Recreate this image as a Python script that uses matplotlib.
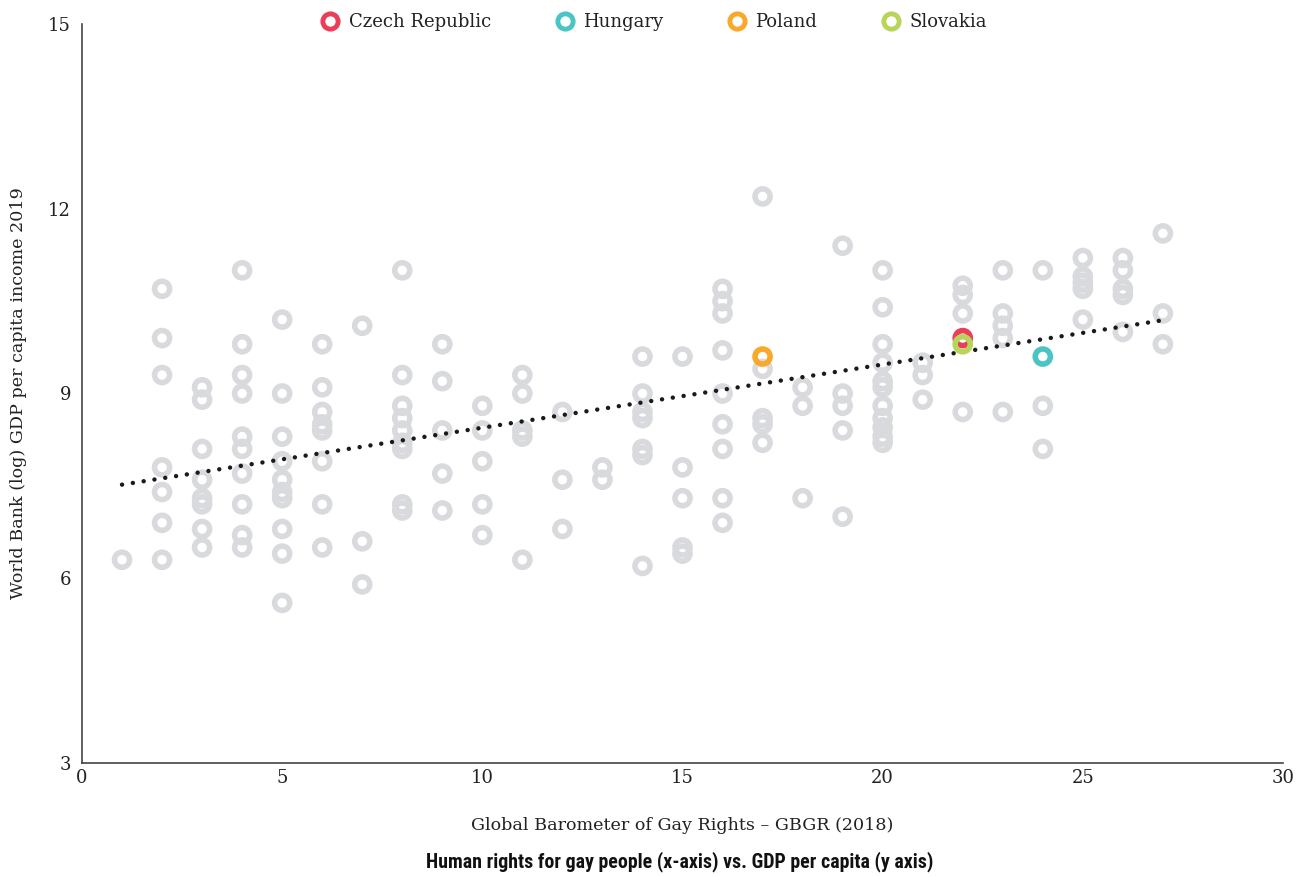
import matplotlib
matplotlib.use("Agg")
import matplotlib.pyplot as plt
from matplotlib.lines import Line2D

# ---- data (GBGR score, log GDP per capita) ----
gbgr = [
    1,
    2, 2, 2, 2, 2, 2, 2,
    3, 3, 3, 3, 3, 3, 3, 3,
    4, 4, 4, 4, 4, 4, 4, 4, 4, 4,
    5, 5, 5, 5, 5, 5, 5, 5, 5, 5,
    6, 6, 6, 6, 6, 6, 6, 6,
    7, 7, 7,
    8, 8, 8, 8, 8, 8, 8, 8, 8,
    9, 9, 9, 9, 9,
    10, 10, 10, 10, 10,
    11, 11, 11, 11, 11,
    12, 12, 12,
    13, 13,
    14, 14, 14, 14, 14, 14, 14,
    15, 15, 15, 15, 15,
    16, 16, 16, 16, 16, 16, 16, 16, 16,
    17, 17, 17, 17, 17,
    18, 18, 18,
    19, 19, 19, 19, 19,
    20, 20, 20, 20, 20, 20, 20, 20, 20, 20, 20,
    21, 21, 21,
    22, 22, 22, 22,
    23, 23, 23, 23, 23,
    24, 24, 24,
    25, 25, 25, 25, 25,
    26, 26, 26, 26, 26,
    27, 27, 27,
]
log_gdp = [
    6.3,
    10.7, 9.9, 9.3, 7.8, 7.4, 6.9, 6.3,
    9.1, 8.9, 8.1, 7.6, 7.3, 7.2, 6.8, 6.5,
    11.0, 9.8, 9.3, 9.0, 8.3, 8.1, 7.7, 7.2, 6.7, 6.5,
    10.2, 9.0, 8.3, 7.9, 7.6, 7.4, 7.3, 6.8, 6.4, 5.6,
    9.8, 9.1, 8.7, 8.5, 8.4, 7.9, 7.2, 6.5,
    10.1, 6.6, 5.9,
    11.0, 9.3, 8.8, 8.6, 8.4, 8.2, 8.1, 7.2, 7.1,
    9.8, 9.2, 8.4, 7.7, 7.1,
    8.8, 8.4, 7.9, 7.2, 6.7,
    9.3, 9.0, 8.4, 8.3, 6.3,
    8.7, 7.6, 6.8,
    7.8, 7.6,
    9.6, 9.0, 8.7, 8.6, 8.1, 8.0, 6.2,
    9.6, 7.8, 7.3, 6.5, 6.4,
    10.7, 10.5, 10.3, 9.7, 9.0, 8.5, 8.1, 7.3, 6.9,
    12.2, 9.4, 8.6, 8.5, 8.2,
    9.1, 8.8, 7.3,
    11.4, 9.0, 8.8, 8.4, 7.0,
    11.0, 10.4, 9.8, 9.5, 9.2, 9.1, 8.8, 8.6, 8.45, 8.3, 8.2,
    9.5, 9.3, 8.9,
    10.75, 10.6, 10.3, 8.7,
    11.0, 10.3, 10.1, 9.9, 8.7,
    11.0, 8.8, 8.1,
    11.2, 10.9, 10.8, 10.7, 10.2,
    11.2, 11.0, 10.7, 10.6, 10.0,
    11.6, 10.3, 9.8,
]

countries = ["Czech Republic", "Hungary", "Poland", "Slovakia"]
country_gbgr = [22, 24, 17, 22]
country_gdp = [9.9, 9.6, 9.6, 9.8]
country_colors = ["#ea3e5a", "#4cc4c3", "#f9a829", "#b6d55a"]

trend_x = [1, 27]
trend_y = [7.52, 10.19]

x_ticks = [0, 5, 10, 15, 20, 25, 30]
y_ticks = [3, 6, 9, 12, 15]

SERIF = ["DejaVu Serif"]
TITLE_FONT = ["Roboto Condensed", "Liberation Sans Narrow", "Roboto", "DejaVu Sans"]
TEXT = "#222222"

fig = plt.figure(figsize=(12.97, 8.77), dpi=100)
ax = fig.add_axes([82 / 1297, 1 - 763 / 877, (1283 - 82) / 1297, (763 - 24) / 877])

ms = 118
lw_ring = 4.0
ax.scatter(gbgr, log_gdp, s=ms, facecolors="none", edgecolors="#d9dadd",
           linewidths=lw_ring, zorder=2)

ax.plot(trend_x, trend_y, color="#1a1a1a", linewidth=3.2,
        linestyle=(0, (0.01, 2.45)), dash_capstyle="round", zorder=3)

for name, cx, cy, col in zip(countries, country_gbgr, country_gdp, country_colors):
    ax.scatter([cx], [cy], s=ms, facecolors="none", edgecolors=col,
               linewidths=lw_ring, zorder=4)

ax.set_xlim(0, 30)
ax.set_ylim(3, 15)
ax.set_xticks(x_ticks)
ax.set_yticks(y_ticks)
ax.tick_params(length=0, labelsize=13, colors=TEXT, pad=4)
for lab in ax.get_xticklabels() + ax.get_yticklabels():
    lab.set_fontfamily(SERIF)
ax.tick_params(axis="y", pad=8)
for s in ["top", "right"]:
    ax.spines[s].set_visible(False)
for s in ["left", "bottom"]:
    ax.spines[s].set_color("#444444")
    ax.spines[s].set_linewidth(1.2)

ax.set_ylabel("World Bank (log) GDP per capita income 2019", fontsize=12.6,
              family=SERIF, color=TEXT, labelpad=15)
fig.text(682 / 1297, 1 - 826 / 877, "Global Barometer of Gay Rights – GBGR (2018)",
         ha="center", va="center", fontsize=12.6, family=SERIF, color=TEXT)
fig.text(680 / 1297, 1 - 862 / 877,
         "Human rights for gay people (x-axis) vs. GDP per capita (y axis)",
         ha="center", va="center", fontsize=14.3, fontweight="bold",
         family=TITLE_FONT, color="#111111")

handles = [Line2D([], [], linestyle="none", marker="o", markersize=11,
                  markerfacecolor="none", markeredgecolor=c, markeredgewidth=3.5)
           for c in country_colors]
leg = fig.legend(handles, countries, loc="center", bbox_to_anchor=(654 / 1297, 1 - 22 / 877),
                 ncol=4, frameon=False, handletextpad=0.5, columnspacing=3.6,
                 prop={"family": SERIF, "size": 13}, handlelength=1.0)
for t in leg.get_texts():
    t.set_color(TEXT)

fig.savefig("out.png", dpi=100)
